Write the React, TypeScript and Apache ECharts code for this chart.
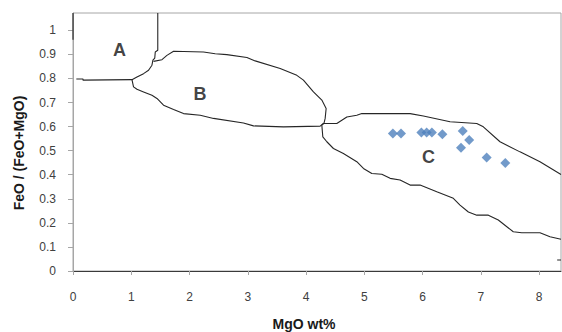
import React, { useEffect, useRef } from "react";
import * as echarts from "echarts";

const xTicks = [0, 1, 2, 3, 4, 5, 6, 7, 8];
const yTicks = [0, 0.1, 0.2, 0.3, 0.4, 0.5, 0.6, 0.7, 0.8, 0.9, 1];

const samples: [number, number][] = [
  [5.49, 0.571], [5.63, 0.571], [5.98, 0.575], [6.07, 0.575], [6.16, 0.575],
  [6.34, 0.568], [6.69, 0.582], [6.8, 0.544], [6.66, 0.512], [7.1, 0.472], [7.42, 0.449],
];

const fieldLabels = ["A", "B", "C"];
const fieldLabelPos: [number, number][] = [[0.8, 0.917], [2.18, 0.737], [6.1, 0.472]];

const leftEdge: [number, number][] = [[0, 1.072], [0, 0.961]];

const boundaryA: [number, number][] = [
  [1.455, 1.072], [1.455, 0.917], [1.412, 0.91], [1.403, 0.884], [1.372, 0.876],
  [1.355, 0.855], [1.297, 0.834], [1.211, 0.82], [1.098, 0.806], [1.012, 0.795],
  [0.172, 0.793], [0.172, 0.798], [0.057, 0.798],
];

const boundaryBTop: [number, number][] = [
  [1.382, 0.871], [1.527, 0.878], [1.612, 0.896], [1.726, 0.913], [2.24, 0.91],
  [2.441, 0.903], [2.641, 0.899], [2.985, 0.887], [3.127, 0.873], [3.556, 0.841],
  [3.842, 0.813], [3.955, 0.793], [4.127, 0.744], [4.271, 0.71], [4.345, 0.675],
  [4.328, 0.634], [4.31, 0.615],
];

const boundaryBBottom: [number, number][] = [
  [1.012, 0.795], [1.039, 0.765], [1.098, 0.755], [1.211, 0.744], [1.355, 0.73],
  [1.441, 0.717], [1.554, 0.689], [1.726, 0.671], [1.897, 0.654], [2.184, 0.647],
  [2.412, 0.634], [2.926, 0.615], [3.098, 0.603], [3.612, 0.599], [4.242, 0.602],
  [4.298, 0.613],
];

const boundaryCTop: [number, number][] = [
  [4.298, 0.613], [4.528, 0.613], [4.7, 0.64], [4.871, 0.647], [4.957, 0.654],
  [5.786, 0.654], [6.014, 0.644], [6.472, 0.62], [6.93, 0.613], [7.043, 0.599],
  [7.329, 0.537], [7.672, 0.495], [8.015, 0.454], [8.376, 0.401],
];

const boundaryCBottom: [number, number][] = [
  [4.31, 0.615], [4.271, 0.606], [4.288, 0.557], [4.357, 0.537], [4.47, 0.509],
  [4.641, 0.488], [4.871, 0.454], [4.985, 0.426], [5.129, 0.405], [5.3, 0.402],
  [5.443, 0.385], [5.614, 0.378], [5.786, 0.357], [5.957, 0.357], [6.244, 0.329],
  [6.528, 0.302], [6.643, 0.274], [6.786, 0.245], [6.93, 0.232], [7.129, 0.232],
  [7.3, 0.212], [7.557, 0.163], [7.702, 0.159], [8.015, 0.159], [8.187, 0.142],
  [8.376, 0.132],
];

const edgeDash: [number, number][] = [[8.31, 0.046], [8.376, 0.046]];

const X_MAX = 8.376;
const Y_MAX = 1.072;

export default function App() {
  const ref = useRef<HTMLDivElement>(null);
  useEffect(() => {
    if (!ref.current) return;
    const chart = echarts.init(ref.current, null, { renderer: "svg" });
    const font = "'Liberation Sans', Arial, sans-serif";
    const lineSeries = (data: [number, number][]) => ({
      type: "line",
      data,
      showSymbol: false,
      symbol: "none",
      silent: true,
      lineStyle: { color: "#262626", width: 1.1 },
      z: 2,
    });
    chart.setOption({
      animation: false,
      textStyle: { fontFamily: font },
      grid: {
        left: 73, right: 1, top: 13, bottom: 61,
        show: true, borderColor: "#a6a6a6", borderWidth: 1,
      },
      xAxis: {
        type: "value", min: 0, max: X_MAX, interval: 1,
        splitLine: { show: false },
        axisLine: { show: true, lineStyle: { color: "#3a3a3a", width: 1 } },
        axisTick: { show: true, length: 4, lineStyle: { color: "#a6a6a6" }, customValues: xTicks },
        axisLabel: {
          customValues: xTicks, margin: 20, fontSize: 12, color: "#404040", fontFamily: font,
        },
      },
      yAxis: {
        type: "value", min: 0, max: Y_MAX, interval: 0.1,
        splitLine: { show: false },
        axisLine: { show: true, lineStyle: { color: "#a6a6a6", width: 1 } },
        axisTick: { show: true, length: 5, lineStyle: { color: "#a6a6a6" }, customValues: yTicks },
        axisLabel: {
          customValues: yTicks, margin: 17, fontSize: 12, color: "#404040", fontFamily: font,
          formatter: (v: number) => String(+v.toFixed(1)),
        },
      },
      graphic: [
        {
          type: "text", x: 19, y: 153, rotation: Math.PI / 2,
          style: {
            text: "FeO / (FeO+MgO)", fill: "#1a1a1a", font: `bold 14px ${font}`,
            align: "center", verticalAlign: "middle",
          },
        },
        {
          type: "text", x: 304, y: 324,
          style: {
            text: "MgO wt%", fill: "#1a1a1a", font: `bold 14px ${font}`,
            align: "center", verticalAlign: "middle",
          },
        },
      ],
      series: [
        lineSeries(leftEdge),
        lineSeries(boundaryA),
        lineSeries(boundaryBTop),
        lineSeries(boundaryBBottom),
        lineSeries(boundaryCTop),
        lineSeries(boundaryCBottom),
        lineSeries(edgeDash),
        {
          type: "scatter",
          data: samples,
          symbol: "diamond",
          symbolSize: 10,
          itemStyle: { color: "#4f81bd" },
          z: 3,
        },
        {
          type: "scatter",
          data: fieldLabels.map((n, i) => ({ name: n, value: fieldLabelPos[i] })),
          symbolSize: 0,
          label: {
            show: true, position: "inside", formatter: "{b}",
            fontSize: 18, fontWeight: "bold", color: "#111", fontFamily: font,
          },
          z: 4,
        },
      ],
    });
    return () => chart.dispose();
  }, []);
  return (
    <div
      ref={ref}
      style={{ position: "absolute", left: 0, top: 0, width: 562, height: 332 }}
    />
  );
}
